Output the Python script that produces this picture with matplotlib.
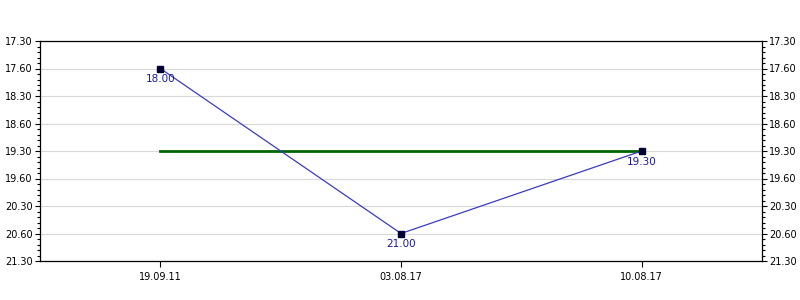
import numpy as np
import matplotlib.pyplot as plt
from matplotlib.ticker import AutoMinorLocator

# ---- data ----
dates = ["19.09.11", "03.08.17", "10.08.17"]
times = [18.0, 21.0, 19.5]              # hours
time_labels = ["18.00", "21.00", "19.30"]
avg_time = 19.5
ytick_vals = [17.5, 18.0, 18.5, 19.0, 19.5, 20.0, 20.5, 21.0, 21.5]
ytick_labels = ["17.30", "17.60", "18.30", "18.60", "19.30",
                "19.60", "20.30", "20.60", "21.30"]

LINE = "#3a3ac8"
LABEL = "#1a1a99"
GREEN = "#006600"

plt.rcParams.update({"font.family": "DejaVu Sans", "font.size": 7})

fig = plt.figure(figsize=(8, 3), dpi=100)
ax = fig.add_axes([40/800, 1 - 261/300, 722/800, 220/300])

x = np.arange(len(dates))
ax.plot([x[0], x[-1]], [avg_time, avg_time], color=GREEN, linewidth=2, zorder=2)
ax.plot(x, times, color=LINE, linewidth=0.9, zorder=3)
ax.plot(x, times, linestyle="none", marker="s", markersize=4,
        markerfacecolor="#000033", markeredgecolor="#000033", zorder=4)
for xi, t, lbl in zip(x, times, time_labels):
    ax.annotate(lbl, (xi, t), xytext=(0, -4), textcoords="offset points",
                ha="center", va="top", color=LABEL, fontsize=7.5)

ax.set_xlim(-0.5, len(dates) - 0.5)
ax.set_ylim(21.5, 17.5)
ax.set_xticks(x)
ax.set_xticklabels(dates)
ax.set_yticks(ytick_vals)
ax.set_yticklabels(ytick_labels)
ax.yaxis.set_minor_locator(AutoMinorLocator(5))
ax.grid(axis="y", color="#d8d8d8", linewidth=0.8, zorder=0)
ax.set_axisbelow(True)
ax.tick_params(axis="y", which="major", length=3.8, width=0.8, direction="out",
               left=True, right=True, labelleft=True, labelright=True, pad=1.5)
ax.tick_params(axis="y", which="minor", length=2, width=0.8, direction="out",
               left=True, right=True)
ax.tick_params(axis="x", length=4, width=0.8, direction="out", pad=4)
for s in ax.spines.values():
    s.set_linewidth(0.9)

fig.savefig("out.png", dpi=100)
